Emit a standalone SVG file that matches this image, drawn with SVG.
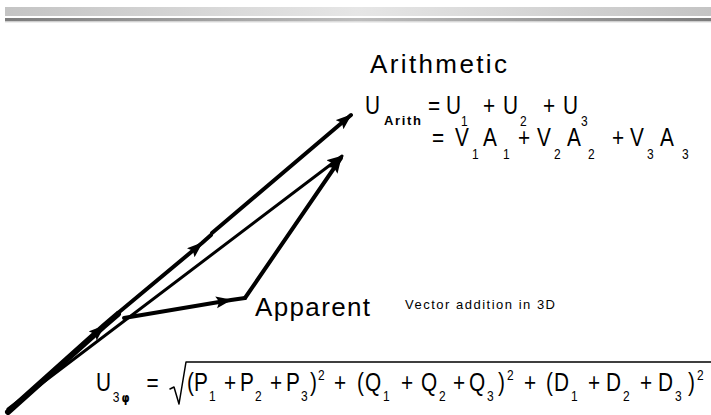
<svg xmlns="http://www.w3.org/2000/svg" width="711" height="415" viewBox="0 0 711 415">
<style>
.t{font-family:"Liberation Sans",Arial,sans-serif;fill:#000;font-size:26px}
.s{font-size:15px}
.b{font-size:13px;font-weight:bold}
.v{fill:none;stroke:#000;stroke-linecap:round;stroke-linejoin:round}
</style>
<defs>
<linearGradient id="g1" x1="0" x2="1" y1="0" y2="0">
<stop offset="0" stop-color="#c4c4c4"/><stop offset="0.5" stop-color="#e6e6e6"/><stop offset="1" stop-color="#c4c4c4"/>
</linearGradient>
<linearGradient id="g2" x1="0" x2="1" y1="0" y2="0">
<stop offset="0" stop-color="#7c7c7c"/><stop offset="0.5" stop-color="#bdbdbd"/><stop offset="1" stop-color="#7c7c7c"/>
</linearGradient>
<marker id="ah" markerUnits="userSpaceOnUse" markerWidth="18" markerHeight="14" refX="15" refY="6" orient="auto">
<path d="M0,0 L16,6 L0,12 L3,6 z" fill="#000"/>
</marker>
</defs>
<g id="header">
<rect x="5" y="7" width="706" height="9" fill="url(#g1)"/>
<rect x="5" y="18" width="706" height="3.5" fill="url(#g2)"/>
<rect x="5" y="21.5" width="706" height="1" fill="#dcdcdc"/>
</g>
<g id="connectors">
<path class="v" d="M8,412 L104,326 L118,314" stroke-width="6" marker-mid="url(#ah)"/>
<path class="v" d="M8,409 L342,156" stroke-width="3" marker-end="url(#ah)"/>
<path class="v" d="M118,313 L202,243 L211,235" stroke-width="4" marker-mid="url(#ah)"/>
<path class="v" d="M212,233 L351,115" stroke-width="4" marker-end="url(#ah)"/>
<path class="v" d="M124,318 L231,300 L245,298" stroke-width="4" marker-mid="url(#ah)"/>
<path class="v" d="M245,298 L341,158" stroke-width="4" marker-end="url(#ah)"/>
</g>
<g id="arithmetic">
<text class="t" x="370" y="73" textLength="137" lengthAdjust="spacing">Arithmetic</text>
<text class="t b" x="384" y="125" textLength="37" lengthAdjust="spacing">Arith</text>
<g transform="scale(0.8 1)">
<text class="t"><tspan x="456.25" y="114">U</tspan><tspan x="535" y="114">=</tspan><tspan x="557.5" y="114">U</tspan><tspan class="s" x="576.25" y="126">1</tspan><tspan x="603.75" y="114">+</tspan><tspan x="628.75" y="114">U</tspan><tspan class="s" x="650" y="126">2</tspan><tspan x="678.75" y="114">+</tspan><tspan x="703.75" y="114">U</tspan><tspan class="s" x="726.25" y="126">3</tspan></text>
<text class="t"><tspan x="540" y="146">=</tspan><tspan x="568.75" y="146">V</tspan><tspan class="s" x="590" y="159">1</tspan><tspan x="603.75" y="146">A</tspan><tspan class="s" x="628.75" y="159">1</tspan><tspan x="647.5" y="146">+</tspan><tspan x="671.25" y="146">V</tspan><tspan class="s" x="692.5" y="159">2</tspan><tspan x="708.75" y="146">A</tspan><tspan class="s" x="735" y="159">2</tspan><tspan x="765" y="146">+</tspan><tspan x="787.5" y="146">V</tspan><tspan class="s" x="808.75" y="159">3</tspan><tspan x="825" y="146">A</tspan><tspan class="s" x="852.5" y="159">3</tspan></text>
</g>
</g>
<g id="apparent">
<text class="t" x="255" y="316" textLength="115" lengthAdjust="spacing">Apparent</text>
<text class="t" x="405" y="309" style="font-size:13px" textLength="150" lengthAdjust="spacing">Vector addition in 3D</text>
</g>
<g id="formula">
<path class="v" d="M170,389 L174,387 L179,404 L186,362 L711,362" stroke-width="1.5"/>
<g transform="scale(0.8 1)">
<text class="t"><tspan x="120" y="391">U</tspan><tspan class="s" x="141" y="402">3</tspan><tspan x="152" y="402" style="font-family:'DejaVu Sans',sans-serif;font-size:13px;font-weight:bold;fill:#000">φ</tspan><tspan x="183" y="391">=</tspan><tspan x="233.75" y="391">(</tspan><tspan x="242.5" y="391">P</tspan><tspan class="s" x="261.25" y="401">1</tspan><tspan x="280" y="391">+</tspan><tspan x="300" y="391">P</tspan><tspan class="s" x="318.75" y="401">2</tspan><tspan x="337.5" y="391">+</tspan><tspan x="357.5" y="391">P</tspan><tspan class="s" x="376.25" y="401">3</tspan><tspan x="387.5" y="391">)</tspan><tspan class="s" x="397.5" y="380">2</tspan><tspan x="417.5" y="391">+</tspan><tspan x="446.25" y="391">(</tspan><tspan x="456.25" y="391">Q</tspan><tspan class="s" x="478.75" y="401">1</tspan><tspan x="501.25" y="391">+</tspan><tspan x="526.25" y="391">Q</tspan><tspan class="s" x="548.75" y="401">2</tspan><tspan x="566.25" y="391">+</tspan><tspan x="586.25" y="391">Q</tspan><tspan class="s" x="608.75" y="401">3</tspan><tspan x="622.5" y="391">)</tspan><tspan class="s" x="633.75" y="380">2</tspan><tspan x="655" y="391">+</tspan><tspan x="682.5" y="391">(</tspan><tspan x="692.5" y="391">D</tspan><tspan class="s" x="713.75" y="401">1</tspan><tspan x="735" y="391">+</tspan><tspan x="757.5" y="391">D</tspan><tspan class="s" x="778.75" y="401">2</tspan><tspan x="800" y="391">+</tspan><tspan x="822.5" y="391">D</tspan><tspan class="s" x="843.75" y="401">3</tspan><tspan x="860" y="391">)</tspan><tspan class="s" x="871.25" y="380">2</tspan></text>
</g>
</g>
</svg>
